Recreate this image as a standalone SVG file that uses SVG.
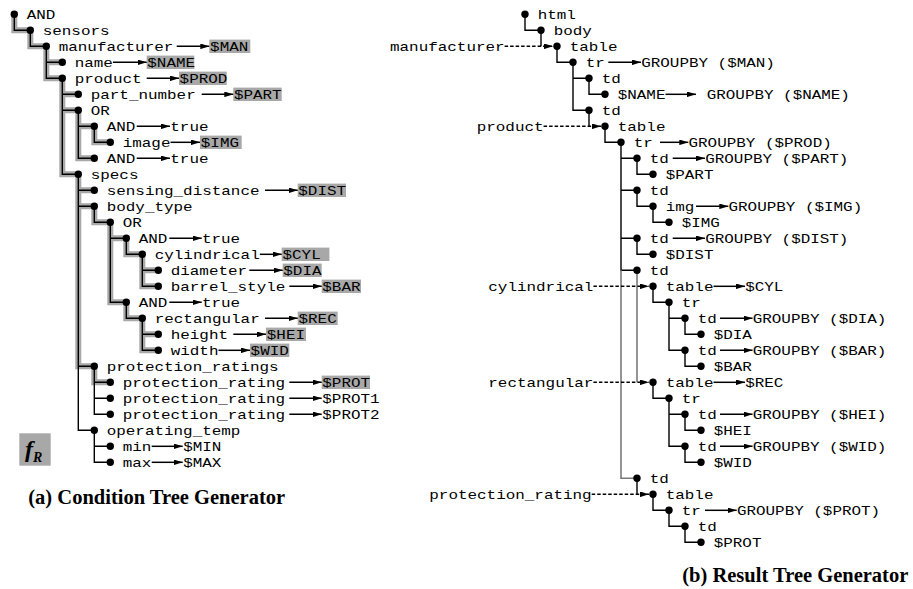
<svg xmlns="http://www.w3.org/2000/svg" width="913" height="589" viewBox="0 0 913 589">
<style>
.t{font-family:"Liberation Mono","Courier New",monospace;font-size:13px;fill:#000}
.cap{font-family:"Liberation Serif","Times New Roman",serif;font-weight:bold;font-size:20.5px;fill:#000}
.fr{font-family:"Liberation Serif","Times New Roman",serif;font-weight:bold;font-style:italic;fill:#000}
.d{fill:#000}
.ln{fill:none;stroke:#000;stroke-width:1.4}
.hl{fill:none;stroke:#a8a8a8;stroke-width:6;stroke-linecap:square;stroke-linejoin:miter}
.gl{fill:none;stroke:#7a7a7a;stroke-width:1.6}
.ar{fill:none;stroke:#000;stroke-width:1.5;marker-end:url(#ah)}
.da{fill:none;stroke:#000;stroke-width:1.4;stroke-dasharray:3.5 2;marker-end:url(#ah)}
.bx{fill:#a8a8a8}
</style>
<defs>
<marker id="ah" markerUnits="userSpaceOnUse" markerWidth="9" markerHeight="5.6" refX="9" refY="2.8" orient="auto">
<path d="M0,0 L9,2.8 L0,5.6 z" fill="#000"/>
</marker>
</defs>
<rect width="913" height="589" fill="#fff"/>

<!-- highlight boxes & highlight paths (left) -->
<g id="highlights">
<path class="hl" d="M14.3,14.3 V30.3 H30.3 M30.3,30.3 V46.3 H46.3 M46.3,46.3 V78.3 H62.3 M46.3,62.3 H62.3 M62.3,78.3 V174.3 H78.3 M62.3,94.3 H78.3 M62.3,110.3 H78.3 M78.3,110.3 V158.3 H94.3 M78.3,126.3 H94.3 M94.3,126.3 V142.3 H110.3 M78.3,174.3 V366.3 H94.3 M78.3,190.3 H94.3 M78.3,206.3 H94.3 M94.3,206.3 V222.3 H110.3 M110.3,222.3 V302.3 H126.3 M110.3,238.3 H126.3 M126.3,238.3 V254.3 H142.3 M142.3,254.3 V286.3 H158.3 M142.3,270.3 H158.3 M126.3,302.3 V318.3 H142.3 M142.3,318.3 V350.3 H158.3 M142.3,334.3 H158.3 M94.3,366.3 V382.3 H110.3"/>
<rect class="bx" x="209.3" y="39.6" width="41" height="13.4"/>
<rect class="bx" x="146.7" y="55.6" width="47.6" height="13.4"/>
<rect class="bx" x="179" y="71.6" width="47.7" height="13.4"/>
<rect class="bx" x="233.3" y="87.6" width="48.4" height="13.4"/>
<rect class="bx" x="200" y="135.6" width="41.7" height="13.4"/>
<rect class="bx" x="297.7" y="183.6" width="48.3" height="13.4"/>
<rect class="bx" x="281.7" y="247.6" width="47.7" height="13.4"/>
<rect class="bx" x="282.7" y="263.6" width="39" height="13.4"/>
<rect class="bx" x="321.7" y="279.6" width="39.3" height="13.4"/>
<rect class="bx" x="297.7" y="311.6" width="40" height="13.4"/>
<rect class="bx" x="266" y="327.6" width="40" height="13.4"/>
<rect class="bx" x="250" y="343.6" width="39.3" height="13.4"/>
<rect class="bx" x="321.7" y="375.6" width="48.3" height="13.4"/>
</g>

<g id="connectors">
<!-- left tree edges -->
<path class="ln" d="M14.3,14.3 V30.3 H30.3 M30.3,30.3 V46.3 H46.3 M46.3,46.3 V78.3 H62.3 M46.3,62.3 H62.3 M62.3,78.3 V174.3 H78.3 M62.3,94.3 H78.3 M62.3,110.3 H78.3 M78.3,110.3 V158.3 H94.3 M78.3,126.3 H94.3 M94.3,126.3 V142.3 H110.3 M78.3,174.3 V430.3 H94.3 M78.3,190.3 H94.3 M78.3,206.3 H94.3 M78.3,366.3 H94.3 M94.3,206.3 V222.3 H110.3 M110.3,222.3 V302.3 H126.3 M110.3,238.3 H126.3 M126.3,238.3 V254.3 H142.3 M142.3,254.3 V286.3 H158.3 M142.3,270.3 H158.3 M126.3,302.3 V318.3 H142.3 M142.3,318.3 V350.3 H158.3 M142.3,334.3 H158.3 M94.3,366.3 V414.3 H110.3 M94.3,382.3 H110.3 M94.3,398.3 H110.3 M94.3,430.3 V462.3 H110.3 M94.3,446.3 H110.3"/>
<!-- left value arrows -->
<path class="ar" d="M176.7,46.3 H209.3"/>
<path class="ar" d="M112.9,62.3 H146.7"/>
<path class="ar" d="M146.7,78.3 H179"/>
<path class="ar" d="M201.7,94.3 H233.3"/>
<path class="ar" d="M136.7,126.3 H170"/>
<path class="ar" d="M170.5,142.3 H200"/>
<path class="ar" d="M136.7,158.3 H170"/>
<path class="ar" d="M265,190.3 H297.7"/>
<path class="ar" d="M169.3,238.3 H201.7"/>
<path class="ar" d="M259.8,254.3 H281.7"/>
<path class="ar" d="M249.3,270.3 H282.7"/>
<path class="ar" d="M289.3,286.3 H321.7"/>
<path class="ar" d="M169.3,302.3 H201.7"/>
<path class="ar" d="M265,318.3 H297.7"/>
<path class="ar" d="M233.3,334.3 H266"/>
<path class="ar" d="M218.5,350.3 H250"/>
<path class="ar" d="M289.3,382.3 H321.7"/>
<path class="ar" d="M289.3,398.3 H321.7"/>
<path class="ar" d="M289.3,414.3 H321.7"/>
<path class="ar" d="M151.7,446.3 H182.7"/>
<path class="ar" d="M151.7,462.3 H182.7"/>
<!-- right tree edges -->
<path class="ln" d="M525,14.3 V30.3 H541 M541,30.3 V46.3 M557,46.3 V62.3 H573 M573,62.3 V110.3 H589 M573,78.3 H589 M589,78.3 V94.3 H605 M589,110.3 V126.3 M605,126.3 V142.3 H621 M621,142.3 V270.3 H637 M621,158.3 H637 M621,190.3 H637 M621,238.3 H637 M637,158.3 V174.3 H653 M637,190.3 V206.3 H653 M653,206.3 V222.3 H669 M637,238.3 V254.3 H653 M653,286.3 V302.3 H669 M669,302.3 V350.3 H685 M669,318.3 H685 M685,318.3 V334.3 H701 M685,350.3 V366.3 H701 M653,382.3 V398.3 H669 M669,398.3 V446.3 H685 M669,414.3 H685 M685,414.3 V430.3 H701 M685,446.3 V462.3 H701 M637,478.3 V494.3 M653,494.3 V510.3 H669 M669,510.3 V526.3 H685 M685,526.3 V542.3 H701"/>
<path class="gl" d="M621,270.3 V478.3 H637 M637,270.3 V382.3"/>
<!-- dashed mapping arrows -->
<path class="da" d="M504.6,46.3 H553"/>
<path class="da" d="M543.6,126.3 H601"/>
<path class="da" d="M593.4,286.3 H649"/>
<path class="da" d="M593.4,382.3 H649"/>
<path class="da" d="M591.7,494.3 H649"/>
<!-- right value arrows -->
<path class="ar" d="M608.3,62.3 H641"/>
<path class="ar" d="M665.5,94.3 H696"/>
<path class="ar" d="M660,142.3 H688.3"/>
<path class="ar" d="M672.7,158.3 H705"/>
<path class="ar" d="M696,206.3 H728.3"/>
<path class="ar" d="M672.7,238.3 H705"/>
<path class="ar" d="M713.5,286.3 H745"/>
<path class="ar" d="M720,318.3 H752.5"/>
<path class="ar" d="M720,350.3 H752.5"/>
<path class="ar" d="M713.5,382.3 H745"/>
<path class="ar" d="M720,414.3 H752.5"/>
<path class="ar" d="M720,446.3 H752.5"/>
<path class="ar" d="M705,510.3 H736.7"/>
</g>

<!-- left tree nodes -->
<g id="c-and0"><circle class="d" cx="14.3" cy="14.3" r="3.7"/><text class="t" x="26.7" y="18.5" textLength="28.65" lengthAdjust="spacingAndGlyphs">AND</text></g>
<g id="c-sensors"><circle class="d" cx="30.3" cy="30.3" r="3.7"/><text class="t" x="42.7" y="34.5" textLength="66.85" lengthAdjust="spacingAndGlyphs">sensors</text></g>
<g id="c-manufacturer"><circle class="d" cx="46.3" cy="46.3" r="3.7"/><text class="t" x="58.7" y="50.5" textLength="114.6" lengthAdjust="spacingAndGlyphs">manufacturer</text><text class="t" x="210.1" y="50.5" textLength="38.2" lengthAdjust="spacingAndGlyphs">$MAN</text></g>
<g id="c-name"><circle class="d" cx="62.3" cy="62.3" r="3.7"/><text class="t" x="74.7" y="66.5" textLength="38.2" lengthAdjust="spacingAndGlyphs">name</text><text class="t" x="147.3" y="66.5" textLength="47.75" lengthAdjust="spacingAndGlyphs">$NAME</text></g>
<g id="c-product"><circle class="d" cx="62.3" cy="78.3" r="3.7"/><text class="t" x="74.7" y="82.5" textLength="66.85" lengthAdjust="spacingAndGlyphs">product</text><text class="t" x="179.6" y="82.5" textLength="47.75" lengthAdjust="spacingAndGlyphs">$PROD</text></g>
<g id="c-part_number"><circle class="d" cx="78.3" cy="94.3" r="3.7"/><text class="t" x="90.7" y="98.5" textLength="105.05" lengthAdjust="spacingAndGlyphs">part_number</text><text class="t" x="233.9" y="98.5" textLength="47.75" lengthAdjust="spacingAndGlyphs">$PART</text></g>
<g id="c-or1"><circle class="d" cx="78.3" cy="110.3" r="3.7"/><text class="t" x="90.7" y="114.5" textLength="19.1" lengthAdjust="spacingAndGlyphs">OR</text></g>
<g id="c-and1"><circle class="d" cx="94.3" cy="126.3" r="3.7"/><text class="t" x="106.7" y="130.5" textLength="28.65" lengthAdjust="spacingAndGlyphs">AND</text><text class="t" x="170.3" y="130.5" textLength="38.2" lengthAdjust="spacingAndGlyphs">true</text></g>
<g id="c-image"><circle class="d" cx="110.3" cy="142.3" r="3.7"/><text class="t" x="122.7" y="146.5" textLength="47.75" lengthAdjust="spacingAndGlyphs">image</text><text class="t" x="200.8" y="146.5" textLength="38.2" lengthAdjust="spacingAndGlyphs">$IMG</text></g>
<g id="c-and2"><circle class="d" cx="94.3" cy="158.3" r="3.7"/><text class="t" x="106.7" y="162.5" textLength="28.65" lengthAdjust="spacingAndGlyphs">AND</text><text class="t" x="170.3" y="162.5" textLength="38.2" lengthAdjust="spacingAndGlyphs">true</text></g>
<g id="c-specs"><circle class="d" cx="78.3" cy="174.3" r="3.7"/><text class="t" x="90.7" y="178.5" textLength="47.75" lengthAdjust="spacingAndGlyphs">specs</text></g>
<g id="c-sensing_distance"><circle class="d" cx="94.3" cy="190.3" r="3.7"/><text class="t" x="106.7" y="194.5" textLength="152.8" lengthAdjust="spacingAndGlyphs">sensing_distance</text><text class="t" x="298.3" y="194.5" textLength="47.75" lengthAdjust="spacingAndGlyphs">$DIST</text></g>
<g id="c-body_type"><circle class="d" cx="94.3" cy="206.3" r="3.7"/><text class="t" x="106.7" y="210.5" textLength="85.95" lengthAdjust="spacingAndGlyphs">body_type</text></g>
<g id="c-or2"><circle class="d" cx="110.3" cy="222.3" r="3.7"/><text class="t" x="122.7" y="226.5" textLength="19.1" lengthAdjust="spacingAndGlyphs">OR</text></g>
<g id="c-and3"><circle class="d" cx="126.3" cy="238.3" r="3.7"/><text class="t" x="138.7" y="242.5" textLength="28.65" lengthAdjust="spacingAndGlyphs">AND</text><text class="t" x="201.9" y="242.5" textLength="38.2" lengthAdjust="spacingAndGlyphs">true</text></g>
<g id="c-cylindrical"><circle class="d" cx="142.3" cy="254.3" r="3.7"/><text class="t" x="154.7" y="258.5" textLength="105.05" lengthAdjust="spacingAndGlyphs">cylindrical</text><text class="t" x="282.5" y="258.5" textLength="38.2" lengthAdjust="spacingAndGlyphs">$CYL</text></g>
<g id="c-diameter"><circle class="d" cx="158.3" cy="270.3" r="3.7"/><text class="t" x="170.7" y="274.5" textLength="76.4" lengthAdjust="spacingAndGlyphs">diameter</text><text class="t" x="283.3" y="274.5" textLength="38.2" lengthAdjust="spacingAndGlyphs">$DIA</text></g>
<g id="c-barrel_style"><circle class="d" cx="158.3" cy="286.3" r="3.7"/><text class="t" x="170.7" y="290.5" textLength="114.6" lengthAdjust="spacingAndGlyphs">barrel_style</text><text class="t" x="322.3" y="290.5" textLength="38.2" lengthAdjust="spacingAndGlyphs">$BAR</text></g>
<g id="c-and4"><circle class="d" cx="126.3" cy="302.3" r="3.7"/><text class="t" x="138.7" y="306.5" textLength="28.65" lengthAdjust="spacingAndGlyphs">AND</text><text class="t" x="201.9" y="306.5" textLength="38.2" lengthAdjust="spacingAndGlyphs">true</text></g>
<g id="c-rectangular"><circle class="d" cx="142.3" cy="318.3" r="3.7"/><text class="t" x="154.7" y="322.5" textLength="105.05" lengthAdjust="spacingAndGlyphs">rectangular</text><text class="t" x="298.5" y="322.5" textLength="38.2" lengthAdjust="spacingAndGlyphs">$REC</text></g>
<g id="c-height"><circle class="d" cx="158.3" cy="334.3" r="3.7"/><text class="t" x="170.7" y="338.5" textLength="57.3" lengthAdjust="spacingAndGlyphs">height</text><text class="t" x="266.8" y="338.5" textLength="38.2" lengthAdjust="spacingAndGlyphs">$HEI</text></g>
<g id="c-width"><circle class="d" cx="158.3" cy="350.3" r="3.7"/><text class="t" x="170.7" y="354.5" textLength="47.75" lengthAdjust="spacingAndGlyphs">width</text><text class="t" x="250.6" y="354.5" textLength="38.2" lengthAdjust="spacingAndGlyphs">$WID</text></g>
<g id="c-protection_ratings"><circle class="d" cx="94.3" cy="366.3" r="3.7"/><text class="t" x="106.7" y="370.5" textLength="171.9" lengthAdjust="spacingAndGlyphs">protection_ratings</text></g>
<g id="c-protection_rating1"><circle class="d" cx="110.3" cy="382.3" r="3.7"/><text class="t" x="122.7" y="386.5" textLength="162.35" lengthAdjust="spacingAndGlyphs">protection_rating</text><text class="t" x="322.3" y="386.5" textLength="47.75" lengthAdjust="spacingAndGlyphs">$PROT</text></g>
<g id="c-protection_rating2"><circle class="d" cx="110.3" cy="398.3" r="3.7"/><text class="t" x="122.7" y="402.5" textLength="162.35" lengthAdjust="spacingAndGlyphs">protection_rating</text><text class="t" x="322.3" y="402.5" textLength="57.3" lengthAdjust="spacingAndGlyphs">$PROT1</text></g>
<g id="c-protection_rating3"><circle class="d" cx="110.3" cy="414.3" r="3.7"/><text class="t" x="122.7" y="418.5" textLength="162.35" lengthAdjust="spacingAndGlyphs">protection_rating</text><text class="t" x="322.3" y="418.5" textLength="57.3" lengthAdjust="spacingAndGlyphs">$PROT2</text></g>
<g id="c-operating_temp"><circle class="d" cx="94.3" cy="430.3" r="3.7"/><text class="t" x="106.7" y="434.5" textLength="133.7" lengthAdjust="spacingAndGlyphs">operating_temp</text></g>
<g id="c-min"><circle class="d" cx="110.3" cy="446.3" r="3.7"/><text class="t" x="122.7" y="450.5" textLength="28.65" lengthAdjust="spacingAndGlyphs">min</text><text class="t" x="183.2" y="450.5" textLength="38.2" lengthAdjust="spacingAndGlyphs">$MIN</text></g>
<g id="c-max"><circle class="d" cx="110.3" cy="462.3" r="3.7"/><text class="t" x="122.7" y="466.5" textLength="28.65" lengthAdjust="spacingAndGlyphs">max</text><text class="t" x="183.2" y="466.5" textLength="38.2" lengthAdjust="spacingAndGlyphs">$MAX</text></g>

<g id="fR"><rect class="bx" x="19.3" y="433.3" width="31.4" height="32.4"/><text class="fr" x="25" y="457" font-size="24">f<tspan font-size="14" dy="4.5">R</tspan></text></g>
<g id="caption-a"><text class="cap" x="28.3" y="503.6">(a) Condition Tree Generator</text></g>

<!-- right tree nodes -->
<g id="r-html"><circle class="d" cx="525" cy="14.3" r="3.7"/><text class="t" x="537.7" y="18.5" textLength="38.2" lengthAdjust="spacingAndGlyphs">html</text></g>
<g id="r-body"><circle class="d" cx="541" cy="30.3" r="3.7"/><text class="t" x="553.7" y="34.5" textLength="38.2" lengthAdjust="spacingAndGlyphs">body</text></g>
<g id="r-table1"><circle class="d" cx="557" cy="46.3" r="3.7"/><text class="t" x="569.7" y="50.5" textLength="47.75" lengthAdjust="spacingAndGlyphs">table</text></g>
<g id="r-tr1"><circle class="d" cx="573" cy="62.3" r="3.7"/><text class="t" x="585.7" y="66.5" textLength="19.1" lengthAdjust="spacingAndGlyphs">tr</text><text class="t" x="641.2" y="66.5" textLength="133.7" lengthAdjust="spacingAndGlyphs">GROUPBY ($MAN)</text></g>
<g id="r-td1"><circle class="d" cx="589" cy="78.3" r="3.7"/><text class="t" x="601.7" y="82.5" textLength="19.1" lengthAdjust="spacingAndGlyphs">td</text></g>
<g id="r-name"><circle class="d" cx="605" cy="94.3" r="3.7"/><text class="t" x="617.7" y="98.5" textLength="47.75" lengthAdjust="spacingAndGlyphs">$NAME</text><text class="t" x="706.7" y="98.5" textLength="143.25" lengthAdjust="spacingAndGlyphs">GROUPBY ($NAME)</text></g>
<g id="r-td2"><circle class="d" cx="589" cy="110.3" r="3.7"/><text class="t" x="601.7" y="114.5" textLength="19.1" lengthAdjust="spacingAndGlyphs">td</text></g>
<g id="r-table2"><circle class="d" cx="605" cy="126.3" r="3.7"/><text class="t" x="617.7" y="130.5" textLength="47.75" lengthAdjust="spacingAndGlyphs">table</text></g>
<g id="r-tr2"><circle class="d" cx="621" cy="142.3" r="3.7"/><text class="t" x="633.7" y="146.5" textLength="19.1" lengthAdjust="spacingAndGlyphs">tr</text><text class="t" x="688.5" y="146.5" textLength="143.25" lengthAdjust="spacingAndGlyphs">GROUPBY ($PROD)</text></g>
<g id="r-td3"><circle class="d" cx="637" cy="158.3" r="3.7"/><text class="t" x="649.7" y="162.5" textLength="19.1" lengthAdjust="spacingAndGlyphs">td</text><text class="t" x="705.2" y="162.5" textLength="143.25" lengthAdjust="spacingAndGlyphs">GROUPBY ($PART)</text></g>
<g id="r-part"><circle class="d" cx="653" cy="174.3" r="3.7"/><text class="t" x="665.7" y="178.5" textLength="47.75" lengthAdjust="spacingAndGlyphs">$PART</text></g>
<g id="r-td4"><circle class="d" cx="637" cy="190.3" r="3.7"/><text class="t" x="649.7" y="194.5" textLength="19.1" lengthAdjust="spacingAndGlyphs">td</text></g>
<g id="r-img"><circle class="d" cx="653" cy="206.3" r="3.7"/><text class="t" x="665.7" y="210.5" textLength="28.65" lengthAdjust="spacingAndGlyphs">img</text><text class="t" x="728.5" y="210.5" textLength="133.7" lengthAdjust="spacingAndGlyphs">GROUPBY ($IMG)</text></g>
<g id="r-imgv"><circle class="d" cx="669" cy="222.3" r="3.7"/><text class="t" x="681.7" y="226.5" textLength="38.2" lengthAdjust="spacingAndGlyphs">$IMG</text></g>
<g id="r-td5"><circle class="d" cx="637" cy="238.3" r="3.7"/><text class="t" x="649.7" y="242.5" textLength="19.1" lengthAdjust="spacingAndGlyphs">td</text><text class="t" x="705.2" y="242.5" textLength="143.25" lengthAdjust="spacingAndGlyphs">GROUPBY ($DIST)</text></g>
<g id="r-dist"><circle class="d" cx="653" cy="254.3" r="3.7"/><text class="t" x="665.7" y="258.5" textLength="47.75" lengthAdjust="spacingAndGlyphs">$DIST</text></g>
<g id="r-td6"><circle class="d" cx="637" cy="270.3" r="3.7"/><text class="t" x="649.7" y="274.5" textLength="19.1" lengthAdjust="spacingAndGlyphs">td</text></g>
<g id="r-table3"><circle class="d" cx="653" cy="286.3" r="3.7"/><text class="t" x="665.7" y="290.5" textLength="47.75" lengthAdjust="spacingAndGlyphs">table</text><text class="t" x="745.2" y="290.5" textLength="38.2" lengthAdjust="spacingAndGlyphs">$CYL</text></g>
<g id="r-tr3"><circle class="d" cx="669" cy="302.3" r="3.7"/><text class="t" x="681.7" y="306.5" textLength="19.1" lengthAdjust="spacingAndGlyphs">tr</text></g>
<g id="r-td7"><circle class="d" cx="685" cy="318.3" r="3.7"/><text class="t" x="697.7" y="322.5" textLength="19.1" lengthAdjust="spacingAndGlyphs">td</text><text class="t" x="752.7" y="322.5" textLength="133.7" lengthAdjust="spacingAndGlyphs">GROUPBY ($DIA)</text></g>
<g id="r-dia"><circle class="d" cx="701" cy="334.3" r="3.7"/><text class="t" x="713.7" y="338.5" textLength="38.2" lengthAdjust="spacingAndGlyphs">$DIA</text></g>
<g id="r-td8"><circle class="d" cx="685" cy="350.3" r="3.7"/><text class="t" x="697.7" y="354.5" textLength="19.1" lengthAdjust="spacingAndGlyphs">td</text><text class="t" x="752.7" y="354.5" textLength="133.7" lengthAdjust="spacingAndGlyphs">GROUPBY ($BAR)</text></g>
<g id="r-bar"><circle class="d" cx="701" cy="366.3" r="3.7"/><text class="t" x="713.7" y="370.5" textLength="38.2" lengthAdjust="spacingAndGlyphs">$BAR</text></g>
<g id="r-table4"><circle class="d" cx="653" cy="382.3" r="3.7"/><text class="t" x="665.7" y="386.5" textLength="47.75" lengthAdjust="spacingAndGlyphs">table</text><text class="t" x="745.2" y="386.5" textLength="38.2" lengthAdjust="spacingAndGlyphs">$REC</text></g>
<g id="r-tr4"><circle class="d" cx="669" cy="398.3" r="3.7"/><text class="t" x="681.7" y="402.5" textLength="19.1" lengthAdjust="spacingAndGlyphs">tr</text></g>
<g id="r-td9"><circle class="d" cx="685" cy="414.3" r="3.7"/><text class="t" x="697.7" y="418.5" textLength="19.1" lengthAdjust="spacingAndGlyphs">td</text><text class="t" x="752.7" y="418.5" textLength="133.7" lengthAdjust="spacingAndGlyphs">GROUPBY ($HEI)</text></g>
<g id="r-hei"><circle class="d" cx="701" cy="430.3" r="3.7"/><text class="t" x="713.7" y="434.5" textLength="38.2" lengthAdjust="spacingAndGlyphs">$HEI</text></g>
<g id="r-td10"><circle class="d" cx="685" cy="446.3" r="3.7"/><text class="t" x="697.7" y="450.5" textLength="19.1" lengthAdjust="spacingAndGlyphs">td</text><text class="t" x="752.7" y="450.5" textLength="133.7" lengthAdjust="spacingAndGlyphs">GROUPBY ($WID)</text></g>
<g id="r-wid"><circle class="d" cx="701" cy="462.3" r="3.7"/><text class="t" x="713.7" y="466.5" textLength="38.2" lengthAdjust="spacingAndGlyphs">$WID</text></g>
<g id="r-td11"><circle class="d" cx="637" cy="478.3" r="3.7"/><text class="t" x="649.7" y="482.5" textLength="19.1" lengthAdjust="spacingAndGlyphs">td</text></g>
<g id="r-table5"><circle class="d" cx="653" cy="494.3" r="3.7"/><text class="t" x="665.7" y="498.5" textLength="47.75" lengthAdjust="spacingAndGlyphs">table</text></g>
<g id="r-tr5"><circle class="d" cx="669" cy="510.3" r="3.7"/><text class="t" x="681.7" y="514.5" textLength="19.1" lengthAdjust="spacingAndGlyphs">tr</text><text class="t" x="736.9" y="514.5" textLength="143.25" lengthAdjust="spacingAndGlyphs">GROUPBY ($PROT)</text></g>
<g id="r-td12"><circle class="d" cx="685" cy="526.3" r="3.7"/><text class="t" x="697.7" y="530.5" textLength="19.1" lengthAdjust="spacingAndGlyphs">td</text></g>
<g id="r-prot"><circle class="d" cx="701" cy="542.3" r="3.7"/><text class="t" x="713.7" y="546.5" textLength="47.75" lengthAdjust="spacingAndGlyphs">$PROT</text></g>

<!-- mapping labels -->
<g id="m-manufacturer"><text class="t" x="390" y="50.5" textLength="114.6" lengthAdjust="spacingAndGlyphs">manufacturer</text></g>
<g id="m-product"><text class="t" x="476.7" y="130.5" textLength="66.85" lengthAdjust="spacingAndGlyphs">product</text></g>
<g id="m-cylindrical"><text class="t" x="488.3" y="290.5" textLength="105.05" lengthAdjust="spacingAndGlyphs">cylindrical</text></g>
<g id="m-rectangular"><text class="t" x="488.3" y="386.5" textLength="105.05" lengthAdjust="spacingAndGlyphs">rectangular</text></g>
<g id="m-protection_rating"><text class="t" x="429.3" y="498.5" textLength="162.35" lengthAdjust="spacingAndGlyphs">protection_rating</text></g>

<g id="caption-b"><text class="cap" x="908.3" y="581.6" text-anchor="end">(b) Result Tree Generator</text></g>
</svg>
